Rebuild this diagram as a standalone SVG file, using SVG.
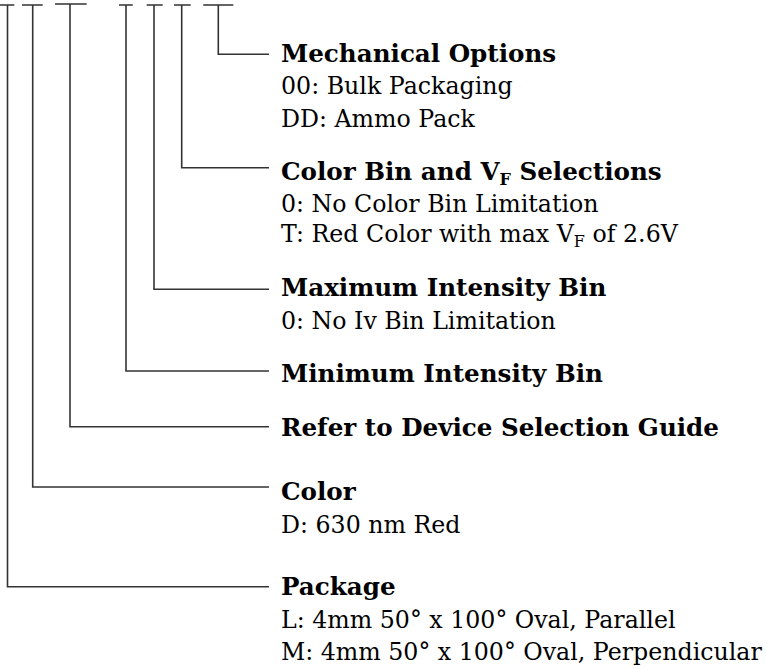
<svg xmlns="http://www.w3.org/2000/svg" width="766" height="669" viewBox="0 0 766 669">
<style>
  .t { font-family: "DejaVu Serif", "Liberation Serif", serif; font-size: 23.7px; fill: #000; }
  .b { font-weight: bold; font-size: 24.6px; }
  .sub { font-size: 16px; }
  .c { fill: none; stroke: #333; stroke-width: 1.6; }
</style>
<rect width="766" height="669" fill="#fff"/>
<g id="connectors">
  <path class="c" d="M0,5 H14.3 M7.5,5 V586.7 H269"/>
  <path class="c" d="M22,5 H42.7 M32.7,5 V487 H269"/>
  <path class="c" d="M55,4 H86.7 M70,4 V426.7 H269"/>
  <path class="c" d="M119,5 H132.7 M126,5 V371 H269"/>
  <path class="c" d="M146.7,5 H162.7 M154,5 V289.3 H269"/>
  <path class="c" d="M174,5 H190.7 M181.7,5 V167.7 H269"/>
  <path class="c" d="M203.3,5 H233.3 M218.3,5 V54.3 H269"/>
</g>
<g id="mechanical-options">
  <text class="t b" x="281" y="62">Mechanical Options</text>
  <text class="t" x="281" y="93.5">00: Bulk Packaging</text>
  <text class="t" x="281" y="126.5">DD: Ammo Pack</text>
</g>
<g id="color-bin">
  <text class="t b" x="281" y="180">Color Bin and V<tspan class="sub" dy="5">F</tspan><tspan dy="-5"> Selections</tspan></text>
  <text class="t" x="281" y="211.5">0: No Color Bin Limitation</text>
  <text class="t" x="281" y="242">T: Red Color with max V<tspan class="sub" dy="5">F</tspan><tspan dy="-5"> of 2.6V</tspan></text>
</g>
<g id="maximum-intensity">
  <text class="t b" x="281" y="296">Maximum Intensity Bin</text>
  <text class="t" x="281" y="329">0: No Iv Bin Limitation</text>
</g>
<g id="minimum-intensity">
  <text class="t b" x="281" y="381.5">Minimum Intensity Bin</text>
</g>
<g id="device-selection">
  <text class="t b" x="281" y="435.5">Refer to Device Selection Guide</text>
</g>
<g id="color">
  <text class="t b" x="281" y="500">Color</text>
  <text class="t" x="281" y="533">D: 630 nm Red</text>
</g>
<g id="package">
  <text class="t b" x="281" y="595">Package</text>
  <text class="t" x="281" y="628">L: 4mm 50° x 100° Oval, Parallel</text>
  <text class="t" x="281" y="660">M: 4mm 50° x 100° Oval, Perpendicular</text>
</g>
</svg>
